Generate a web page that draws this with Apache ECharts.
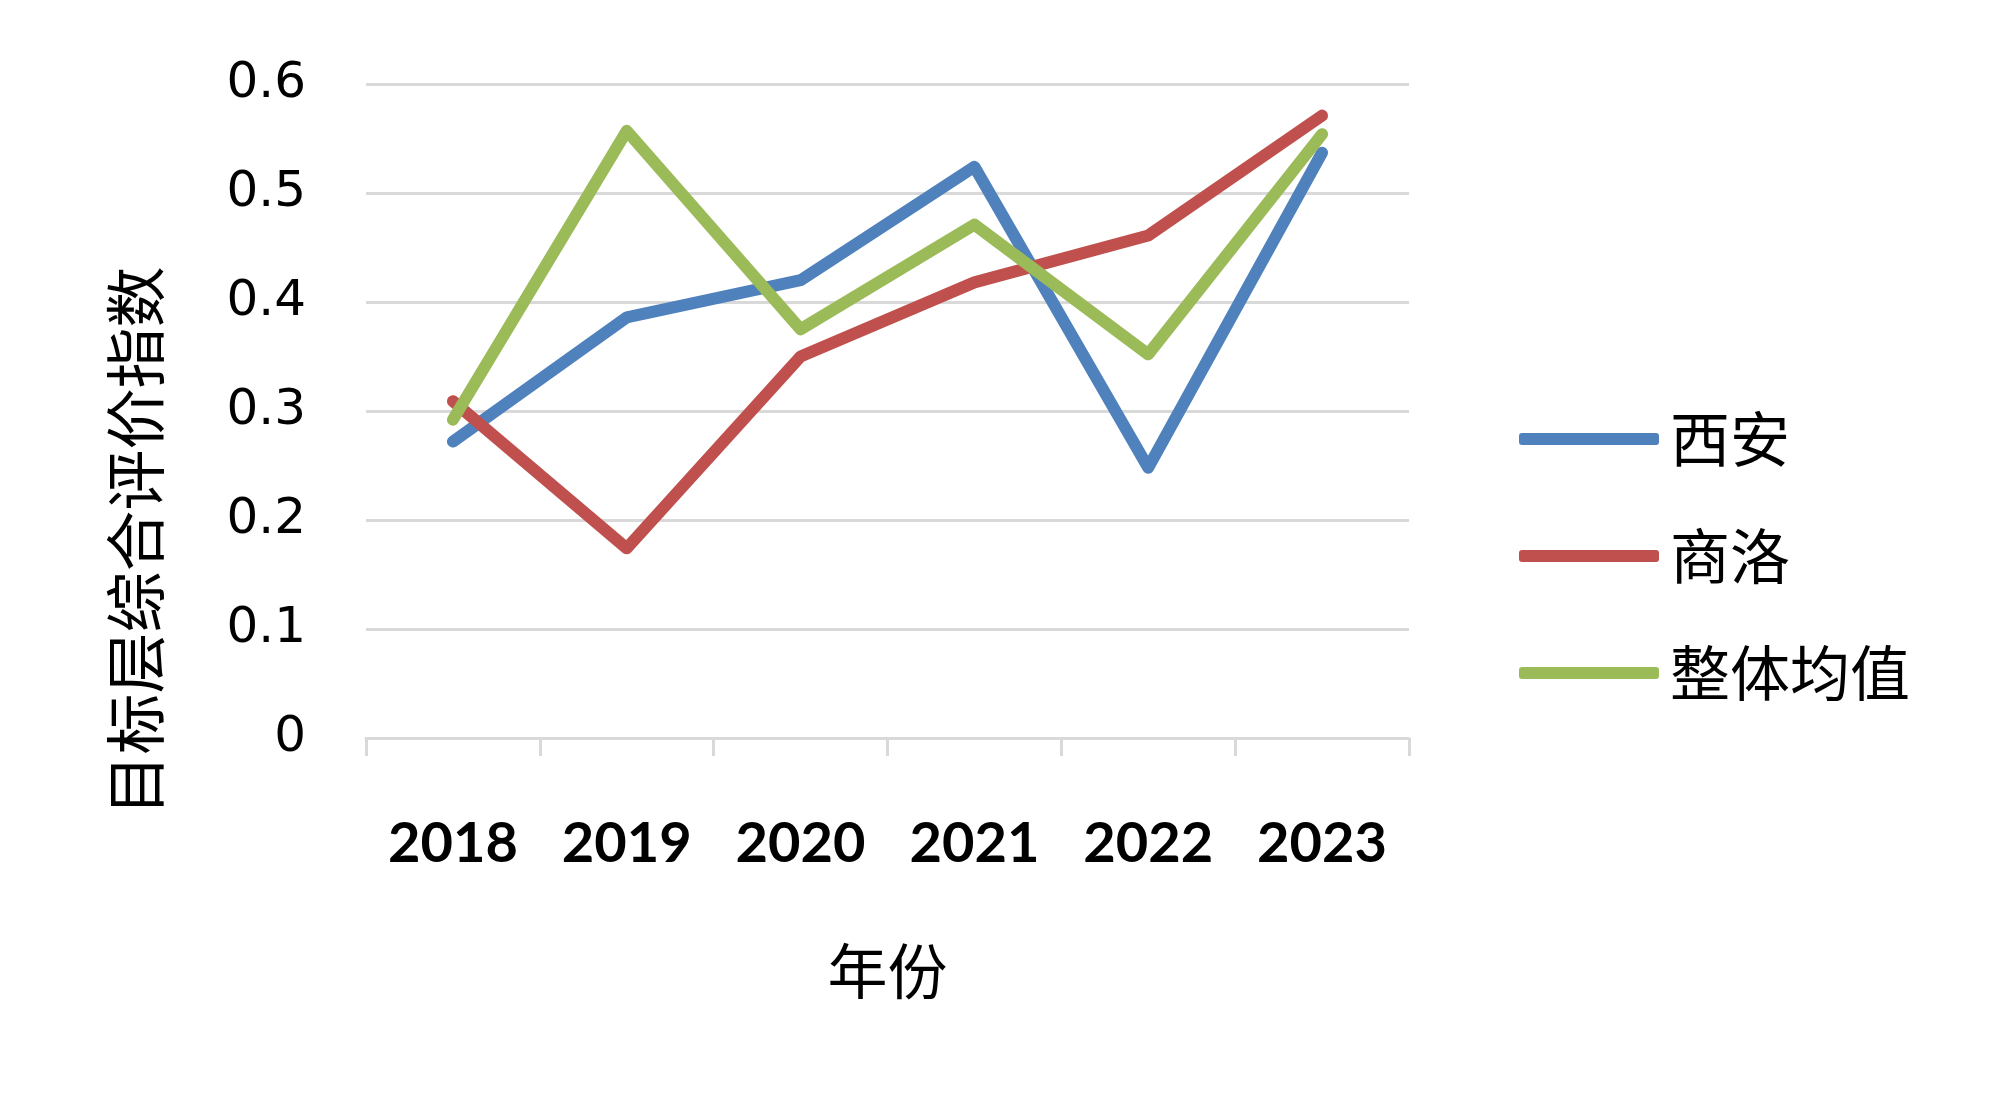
<!DOCTYPE html>
<html>
<head>
<meta charset="utf-8">
<script src="https://cdn.jsdelivr.net/npm/echarts@6/dist/echarts.min.js"></script>
<style>
html,body{margin:0;padding:0;background:#fff;}
#chart{width:2000px;height:1108px;}
</style>
</head>
<body>
<div id="chart"></div>
<script>
const years = ['2018','2019','2020','2021','2022','2023'];
const xian = [0.272, 0.386, 0.420, 0.524, 0.248, 0.537];
const shangluo = [0.309, 0.174, 0.350, 0.418, 0.461, 0.571];
const average = [0.292, 0.557, 0.375, 0.471, 0.352, 0.554];
const seriesNames = ['西安','商洛','整体均值'];
const colors = ['#4F81BD','#C0504D','#9BBB59'];
const yTicks = {min: 0, max: 0.6, interval: 0.1};

const chart = echarts.init(document.getElementById('chart'));
const cjk = '"Noto Sans CJK SC", sans-serif';
function line(name, data, color){
  return {
    name: name, type: 'line', data: data, symbol: 'none', smooth: false,
    lineStyle: {color: color, width: 12, cap: 'round', join: 'round'},
    itemStyle: {color: color},
    animation: false
  };
}
chart.setOption({
  backgroundColor: '#ffffff',
  animation: false,
  color: colors,
  grid: {left: 366, right: 591, top: 84, bottom: 370, containLabel: false},
  legend: {
    orient: 'vertical',
    left: 1514, top: 404,
    itemWidth: 140, itemHeight: 12, itemGap: 57,
    icon: 'roundRect',
    textStyle: {fontFamily: cjk, fontSize: 60, lineHeight: 60, color: '#000', padding: [0,0,0,6]},
    data: seriesNames
  },
  xAxis: {
    type: 'category', data: years, boundaryGap: true,
    name: '年份', nameLocation: 'middle', nameGap: 203,
    nameTextStyle: {fontFamily: cjk, fontSize: 60, color: '#000'},
    axisLine: {show: true, lineStyle: {color: '#D9D9D9', width: 3}},
    axisTick: {show: true, length: 18, lineStyle: {color: '#D9D9D9', width: 3}},
    axisLabel: {fontFamily: 'Lato, sans-serif', fontWeight: 'bold', fontSize: 56, color: '#000', margin: 78},
    splitLine: {show: false}
  },
  yAxis: {
    type: 'value', min: yTicks.min, max: yTicks.max, interval: yTicks.interval,
    name: '目标层综合评价指数', nameLocation: 'middle', nameGap: 200, nameRotate: 90,
    nameTextStyle: {fontFamily: cjk, fontSize: 61, color: '#000', padding: [0, 260, 0, 0]},
    axisLine: {show: false}, axisTick: {show: false},
    axisLabel: {fontFamily: '"DejaVu Sans", sans-serif', fontSize: 50, color: '#000', margin: 60, padding: [4,0,0,0]},
    splitLine: {show: true, lineStyle: {color: '#D9D9D9', width: 3}}
  },
  series: [
    line(seriesNames[0], xian, colors[0]),
    line(seriesNames[1], shangluo, colors[1]),
    line(seriesNames[2], average, colors[2])
  ]
});
</script>
</body>
</html>
